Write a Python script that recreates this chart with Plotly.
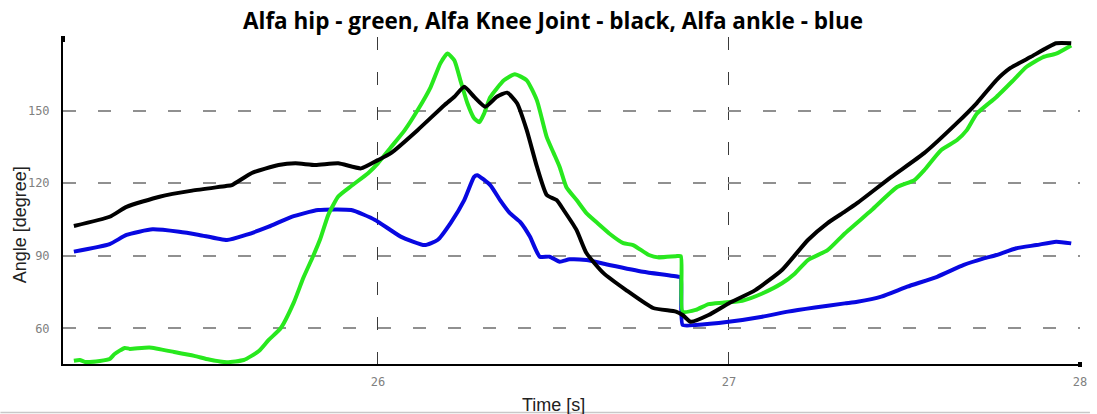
import plotly.graph_objects as go

# ---- joint angle data (time in s, angle in degrees) ----
hip_t = [25.134, 25.151, 25.166, 25.208, 25.236, 25.250, 25.279, 25.293, 25.349, 25.420,
         25.477, 25.519, 25.570, 25.618, 25.661, 25.689, 25.723, 25.760, 25.788, 25.816,
         25.836, 25.859, 25.887, 25.924, 25.972, 26.000, 26.037, 26.076, 26.113, 26.150,
         26.178, 26.198, 26.218, 26.235, 26.255, 26.274, 26.289, 26.303, 26.320, 26.359,
         26.390, 26.424, 26.453, 26.481, 26.501, 26.518, 26.537, 26.566, 26.594, 26.622,
         26.659, 26.699, 26.727, 26.772, 26.801, 26.849, 26.863, 26.868, 26.905, 26.942,
         26.982, 27.038, 27.095, 27.151, 27.188, 27.225, 27.281, 27.330, 27.406, 27.479,
         27.528, 27.556, 27.604, 27.649, 27.677, 27.706, 27.762, 27.810, 27.847, 27.895,
         27.932, 27.975]
hip_deg = [46.6, 46.9, 46.1, 46.5, 47.3, 49.4, 51.9, 51.5, 52.1, 50.2,
           48.6, 47.1, 46.0, 46.9, 50.6, 55.2, 60.0, 70.5, 81.0, 90.0,
           97.0, 107.0, 114.5, 118.8, 124.1, 128.2, 134.8, 141.8, 150.1, 159.6,
           169.5, 173.6, 170.7, 162.5, 153.0, 146.8, 145.2, 148.9, 155.5, 162.5,
           165.0, 162.5, 154.2, 139.0, 132.3, 126.6, 118.3, 113.0, 107.6, 103.9,
           99.2, 95.2, 94.4, 90.3, 89.3, 89.8, 89.8, 66.9, 67.6, 70.0,
           70.6, 71.4, 74.4, 78.6, 82.7, 88.2, 92.3, 99.2, 108.8, 118.4,
           121.2, 125.3, 133.6, 137.7, 141.8, 148.7, 155.6, 162.5, 168.0, 172.1,
           173.5, 176.9]

knee_t = [25.134, 25.236, 25.284, 25.378, 25.471, 25.567, 25.584, 25.641, 25.717, 25.765,
          25.822, 25.887, 25.952, 26.000, 26.037, 26.113, 26.190, 26.218, 26.246, 26.274,
          26.306, 26.339, 26.368, 26.396, 26.424, 26.453, 26.481, 26.509, 26.529, 26.566,
          26.594, 26.642, 26.707, 26.784, 26.849, 26.868, 26.891, 26.942, 26.999, 27.075,
          27.151, 27.225, 27.281, 27.330, 27.366, 27.462, 27.556, 27.649, 27.706, 27.762,
          27.802, 27.859, 27.932, 27.975]
knee_deg = [102.3, 106.1, 110.2, 114.4, 116.9, 118.8, 119.2, 124.2, 127.5, 128.2,
            127.5, 128.2, 126.1, 129.5, 132.4, 141.9, 152.3, 155.7, 159.8, 155.7,
            151.6, 155.7, 157.4, 153.1, 141.9, 126.8, 115.1, 113.0, 108.9, 100.6,
            91.1, 82.9, 75.8, 68.4, 66.9, 65.5, 62.7, 65.5, 70.3, 75.8,
            84.1, 96.5, 103.5, 108.2, 111.8, 122.5, 132.4, 144.8, 153.1, 162.6,
            167.6, 172.1, 177.8, 177.8]

ankle_t = [25.134, 25.236, 25.284, 25.358, 25.434, 25.491, 25.570, 25.624, 25.689, 25.754,
           25.830, 25.924, 25.992, 26.065, 26.133, 26.170, 26.207, 26.246, 26.274, 26.283,
           26.320, 26.348, 26.376, 26.405, 26.433, 26.461, 26.489, 26.518, 26.546, 26.594,
           26.659, 26.755, 26.857, 26.863, 26.868, 26.905, 26.999, 27.095, 27.168, 27.245,
           27.330, 27.366, 27.434, 27.508, 27.593, 27.669, 27.726, 27.762, 27.819, 27.876,
           27.932, 27.975]
ankle_deg = [91.7, 94.8, 98.6, 100.9, 99.9, 98.6, 96.5, 98.6, 102.0, 106.1,
             108.9, 108.9, 104.8, 97.9, 94.4, 96.5, 103.5, 113.0, 122.6, 123.3,
             119.2, 113.0, 107.6, 104.0, 97.9, 89.6, 89.6, 87.5, 88.5, 88.2,
             86.2, 83.4, 81.3, 81.0, 61.4, 61.4, 62.7, 64.8, 66.9, 68.6,
             70.3, 71.0, 73.1, 77.2, 81.3, 86.2, 88.9, 90.3, 93.1, 94.4,
             95.8, 95.1]

x_ticks = [26, 27, 28]
y_ticks = [60, 90, 120, 150]

title_text = "Alfa hip - green, Alfa Knee Joint - black, Alfa ankle - blue"
x_title = "Time [s]"
y_title = "Angle [degree]"

# ---- page geometry ----
W, H = 1097, 414
L, R, T, B = 63, 10, 37, 50
PW, PH = W - L - R, H - T - B


def px_x(p):
    return (p - L) / PW


def px_y(p):
    return (H - B - p) / PH


fig = go.Figure()
line_style = dict(width=4, shape="spline", smoothing=0.5)
fig.add_trace(go.Scatter(x=ankle_t, y=ankle_deg, mode="lines",
                         line=dict(color="rgb(8,8,225)", **line_style)))
fig.add_trace(go.Scatter(x=hip_t, y=hip_deg, mode="lines",
                         line=dict(color="rgb(40,232,30)", **line_style)))
fig.add_trace(go.Scatter(x=knee_t, y=knee_deg, mode="lines",
                         line=dict(color="black", **line_style)))

tick_font = dict(family="DejaVu Sans Mono", size=12, color="#808080")

fig.update_layout(
    width=W, height=H,
    margin=dict(l=L, r=R, t=T, b=B, pad=0),
    paper_bgcolor="white", plot_bgcolor="white",
    showlegend=False,
    xaxis=dict(range=[25.103, 28.0], tickvals=x_ticks, ticktext=[str(v) for v in x_ticks],
               showgrid=True, gridcolor="#3a3a3a", gridwidth=1.3, griddash="13px,22px",
               showline=True, linecolor="black", linewidth=2, zeroline=False,
               ticks="", tickfont=tick_font, ticklabelstandoff=6),
    yaxis=dict(range=[45.25, 180.4], tickvals=y_ticks, ticktext=[str(v) for v in y_ticks],
               showgrid=True, gridcolor="#909090", gridwidth=1.8, griddash="13px,22px",
               showline=True, linecolor="black", linewidth=2, zeroline=False,
               ticks="", tickfont=tick_font, ticklabelstandoff=9),
)

# axis-end caps
fig.add_shape(type="rect", xref="paper", yref="paper", xsizemode="pixel", ysizemode="pixel",
              xanchor=0, yanchor=1, x0=-2, x1=2, y0=-5, y1=1,
              fillcolor="black", line=dict(width=0))
fig.add_shape(type="rect", xref="paper", yref="paper", xsizemode="pixel", ysizemode="pixel",
              xanchor=1, yanchor=0, x0=-2, x1=2, y0=-3, y1=2,
              fillcolor="black", line=dict(width=0))

# bottom rule
fig.add_shape(type="line", xref="paper", yref="paper",
              x0=px_x(0), x1=px_x(W), y0=px_y(412.5), y1=px_y(412.5),
              line=dict(color="#c8c8c8", width=1.5))

fig.add_annotation(text=f"<b>{title_text}</b>", xref="paper", yref="paper",
                   x=px_x(556.5), y=px_y(20), xanchor="center", yanchor="middle",
                   showarrow=False, font=dict(family="Open Sans", size=22.5, color="black"))
fig.add_annotation(text=y_title, xref="paper", yref="paper", textangle=-90,
                   x=px_x(20), y=px_y(225), xanchor="center", yanchor="middle",
                   showarrow=False, font=dict(family="Liberation Sans", size=18, color="#222222"))
fig.add_annotation(text=x_title, xref="paper", yref="paper",
                   x=px_x(557), y=px_y(405), xanchor="center", yanchor="middle",
                   showarrow=False, font=dict(family="Liberation Sans", size=18, color="#222222"))

fig.write_html("out.html")
